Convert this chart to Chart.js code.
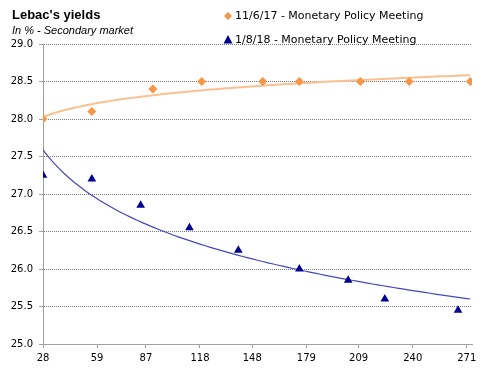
<!DOCTYPE html>
<html>
<head>
<meta charset="utf-8">
<style>
  html, body { margin: 0; padding: 0; background: #fff; }
  #wrap { width: 494px; height: 381px; }
</style>
</head>
<body>
<div id="wrap"><canvas id="yields" width="494" height="381"></canvas></div>
<script src="https://cdn.jsdelivr.net/npm/chart.js@4/dist/chart.umd.min.js"></script>
<script>
// Lebac yields by days to maturity, two monetary policy meetings

const xTickDays = [28, 59, 87, 118, 148, 179, 209, 240, 271];

const nov17Days = [28, 56, 91, 119, 154, 175, 210, 238, 273];
const nov17Yield = [28.0, 28.1, 28.4, 28.5, 28.5, 28.5, 28.5, 28.5, 28.5];

const jan18Days = [28, 56, 84, 112, 140, 175, 203, 224, 266];
const jan18Yield = [27.25, 27.2, 26.85, 26.55, 26.25, 26.0, 25.85, 25.6, 25.45];

const seriesLabels = ['11/6/17 - Monetary Policy Meeting', '1/8/18 - Monetary Policy Meeting'];

const colors = {
  orange: '#f79646',
  orangeTrend: '#fac090',
  navy: '#000090',
  navyTrend: '#4646bc',
  axis: '#a0a0a0',
  grid: '#7a7a7a',
};

// Excel-style logarithmic trendline: least squares on ln(x)
function logTrend(xs, ys, from, to) {
  const lx = xs.map(Math.log);
  const n = xs.length;
  const mx = lx.reduce((a, b) => a + b, 0) / n;
  const my = ys.reduce((a, b) => a + b, 0) / n;
  let sxy = 0, sxx = 0;
  for (let i = 0; i < n; i++) {
    sxy += (lx[i] - mx) * (ys[i] - my);
    sxx += (lx[i] - mx) * (lx[i] - mx);
  }
  const b = sxy / sxx, a = my - b * mx;
  const pts = [];
  for (let x = from; x <= to; x += 3) pts.push({ x, y: a + b * Math.log(x) });
  pts.push({ x: to, y: a + b * Math.log(to) });
  return pts;
}

const zip = (xs, ys) => xs.map((x, i) => ({ x, y: ys[i] }));

// title, subtitle and legend drawn by hand
const headerPlugin = {
  id: 'header',
  afterDraw(chart) {
    const ctx = chart.ctx;
    ctx.save();
    ctx.fillStyle = '#000';
    ctx.textBaseline = 'alphabetic';
    ctx.textAlign = 'left';
    ctx.font = 'bold 13px "Liberation Sans", Arial, sans-serif';
    ctx.fillText("Lebac's yields", 12, 19);
    ctx.font = 'italic 11px "Liberation Sans", Arial, sans-serif';
    ctx.fillText('In % - Secondary market', 12, 34);

    ctx.font = '11px "DejaVu Sans", sans-serif';
    ctx.textBaseline = 'middle';
    // diamond
    ctx.fillStyle = colors.orange;
    ctx.beginPath();
    ctx.moveTo(228, 12); ctx.lineTo(232, 16); ctx.lineTo(228, 20); ctx.lineTo(224, 16);
    ctx.closePath(); ctx.fill();
    ctx.fillStyle = '#000';
    ctx.fillText(seriesLabels[0], 235, 16);
    // triangle
    ctx.fillStyle = colors.navy;
    ctx.beginPath();
    ctx.moveTo(228, 35); ctx.lineTo(232.5, 43.5); ctx.lineTo(223.5, 43.5);
    ctx.closePath(); ctx.fill();
    ctx.fillStyle = '#000';
    ctx.fillText(seriesLabels[1], 235, 40);
    ctx.restore();
  }
};

new Chart(document.getElementById('yields'), {
  type: 'scatter',
  data: {
    datasets: [
      {
        label: seriesLabels[0],
        data: zip(nov17Days, nov17Yield),
        pointStyle: 'rectRot',
        pointRadius: 4.5,
        backgroundColor: colors.orange,
        borderColor: colors.orange,
        borderWidth: 0,
        order: 0,
      },
      {
        label: seriesLabels[1],
        data: zip(jan18Days, jan18Yield),
        pointStyle: 'triangle',
        pointRadius: 5,
        backgroundColor: colors.navy,
        borderColor: colors.navy,
        borderWidth: 0,
        order: 0,
      },
      {
        type: 'line',
        label: 'trend nov17',
        data: logTrend(nov17Days, nov17Yield, 28, 273),
        borderColor: colors.orangeTrend,
        borderWidth: 2,
        pointRadius: 0,
        tension: 0,
        order: 1,
      },
      {
        type: 'line',
        label: 'trend jan18',
        data: logTrend(jan18Days, jan18Yield, 28, 273),
        borderColor: colors.navyTrend,
        borderWidth: 1.2,
        pointRadius: 0,
        tension: 0,
        order: 1,
      },
    ]
  },
  options: {
    responsive: false,
    animation: false,
    layout: { padding: { top: 44, left: 0, right: 22, bottom: 0 } },
    plugins: { legend: { display: false }, tooltip: { enabled: false } },
    scales: {
      x: {
        type: 'linear',
        min: 28,
        max: 274,
        afterBuildTicks: s => { s.ticks = xTickDays.map(v => ({ value: v })); },
        afterFit: s => { s.height = 37; },
        ticks: {
          autoSkip: false,
          maxRotation: 0,
          padding: 4,
          color: '#000',
          font: { family: '"DejaVu Sans", sans-serif', size: 10 },
          callback: v => String(v),
        },
        grid: { drawOnChartArea: false, drawTicks: true, tickLength: 4, tickColor: colors.axis },
        border: { color: colors.axis, width: 1 },
      },
      y: {
        min: 25,
        max: 29,
        afterFit: s => { s.width = 43; },
        ticks: {
          stepSize: 0.5,
          padding: 6,
          color: '#000',
          font: { family: '"DejaVu Sans", sans-serif', size: 10 },
          callback: v => Number(v).toFixed(1),
        },
        grid: {
          color: colors.grid,
          lineWidth: 1,
          drawTicks: true,
          tickLength: 4,
          tickColor: colors.axis,
          tickBorderDash: [],
        },
        border: { color: colors.axis, width: 1, dash: [1, 1] },
      },
    }
  },
  plugins: [headerPlugin]
});
</script>
</body>
</html>
